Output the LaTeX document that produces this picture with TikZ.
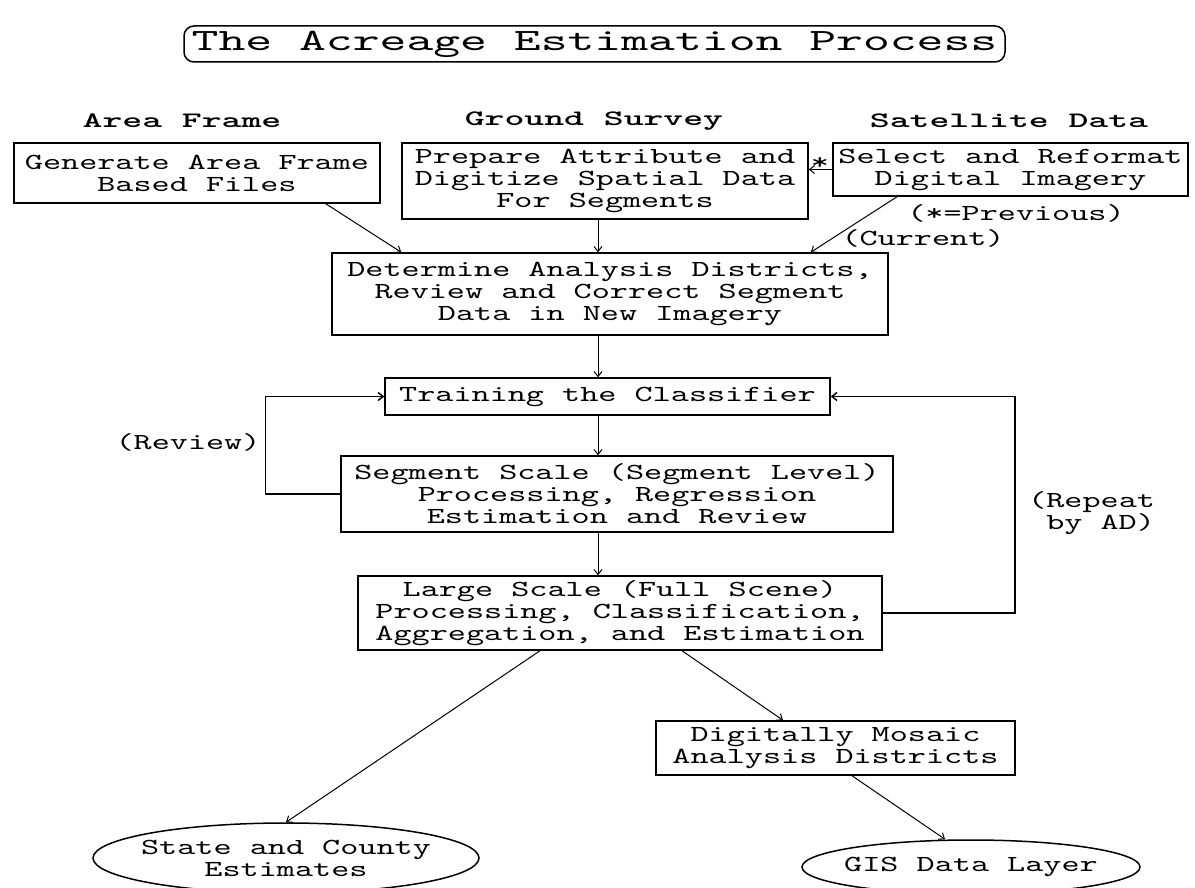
\documentclass[tikz,border=0pt]{standalone}
\usepackage{fontspec}
\newfontfamily\cour[Extension=.otf, FakeStretch=1.5]{lmmono10-regular}
\newfontfamily\courT[Extension=.otf, FakeStretch=1.65]{lmmono10-regular}
\newfontfamily\courbf[Extension=.otf, FakeStretch=1.72]{lmmonolt10-bold}
\usetikzlibrary{arrows.meta, shapes.geometric, calc}
\tikzset{
  txt/.style={font=\fontsize{23}{22}\cour, inner sep=0pt, align=center},
  box/.style={txt, draw, line width=1.5pt},
  head/.style={font=\fontsize{22}{24}\courbf, inner sep=0pt},
  oval/.style={draw, ellipse, line width=1.5pt, inner sep=0pt},
  conn/.style={line width=1pt, -{Straight Barb[length=5pt,width=8pt]}},
  loopline/.style={line width=1.5pt, -{Straight Barb[length=5pt,width=8pt]}},
}
\begin{document}
\begin{tikzpicture}[x=1pt, y=-1pt]
\fill[white] (0,0) rectangle (1195,888);
\useasboundingbox (0,0) rectangle (1195,888);

% title
\node[draw, rounded corners=10pt, line width=1.5pt, minimum width=821pt, minimum height=36pt,
      font=\fontsize{31}{32}\courT, inner sep=0pt] (title) at (594.5,44) {The Acreage Estimation Process};

% headings
\node[head] (h1) at (182,121) {Area Frame};
\node[head] (h2) at (594,121) {Ground Survey};
\node[head] (h3) at (1009,121) {Satellite Data};

% boxes
\node[box, minimum width=366pt, minimum height=60pt] (b1) at (197,173) {Generate Area Frame\\Based Files};
\node[box, minimum width=406pt, minimum height=76pt] (b2) at (605,181) {Prepare Attribute and\\Digitize Spatial Data\\For Segments};
\node[box, minimum width=355pt, minimum height=53pt] (b3) at (1010.5,169.5) {Select and Reformat\\Digital Imagery};
\node[box, minimum width=556pt, minimum height=82pt] (b4) at (610,294) {Determine Analysis Districts,\\Review and Correct Segment\\Data in New Imagery};
\node[box, minimum width=445pt, minimum height=37pt] (b5) at (607.5,396.5) {Training the Classifier};
\node[box, minimum width=552pt, minimum height=76pt] (b6) at (617,494) {Segment Scale (Segment Level)\\Processing, Regression\\Estimation and Review};
\node[box, minimum width=524pt, minimum height=74pt] (b7) at (620,613) {Large Scale (Full Scene)\\Processing, Classification,\\Aggregation, and Estimation};
\node[box, minimum width=359pt, minimum height=54pt] (b8) at (835.5,748) {Digitally Mosaic\\Analysis Districts};

% ovals
\node[oval, minimum width=386pt, minimum height=70pt] (e1) at (286,858) {};
\node[txt] (e1t) at (e1.center) {State and County\\Estimates};
\node[oval, minimum width=338pt, minimum height=54pt] (e2) at (971,867) {};
\node[txt] (e2t) at (e2.center) {GIS Data Layer};

% labels
\node[txt] (star) at (820,164) {*};
\node[txt] (prev) at (1016,213) {(*=Previous)};
\node[txt] (curr) at (923,238) {(Current)};
\node[txt] (rev) at (188,442) {(Review)};
\node[txt, align=left, anchor=west, font=\fontsize{23}{20}\cour] (rep) at (1028,513) {(Repeat\\\hphantom{(}by AD)};

% connectors
\draw[conn] ([xshift=-55pt]b1.south east) -- ([xshift=70pt]b4.north west);
\draw[conn] ([xshift=-7pt]b2.south) -- ([xshift=-7pt]b2.south |- b4.north);
\draw[conn] ([xshift=-113.5pt]b3.south) -- ([xshift=-78pt]b4.north east);
\draw[conn] (b3.west) -- (b2.east |- b3.west);
\draw[conn] ([xshift=-12pt]b4.south) -- ([xshift=-12pt]b4.south |- b5.north);
\draw[conn] ([xshift=-9.5pt]b5.south) -- ([xshift=-9.5pt]b5.south |- b6.north);
\draw[conn] ([xshift=-19pt]b6.south) -- ([xshift=-19pt]b6.south |- b7.north);
\draw[loopline] (b6.west) -- ++(-75,0) |- (b5.west);
\draw[loopline] (b7.east) -- ++(132,0) |- (b5.east);
\draw[conn] ([xshift=-80pt]b7.south) -- (e1.north);
\draw[conn] ([xshift=62pt]b7.south) -- ([xshift=-52.5pt]b8.north);
\draw[conn] ([xshift=16.5pt]b8.south) -- ([xshift=-26pt]e2.north);
\end{tikzpicture}
\end{document}
